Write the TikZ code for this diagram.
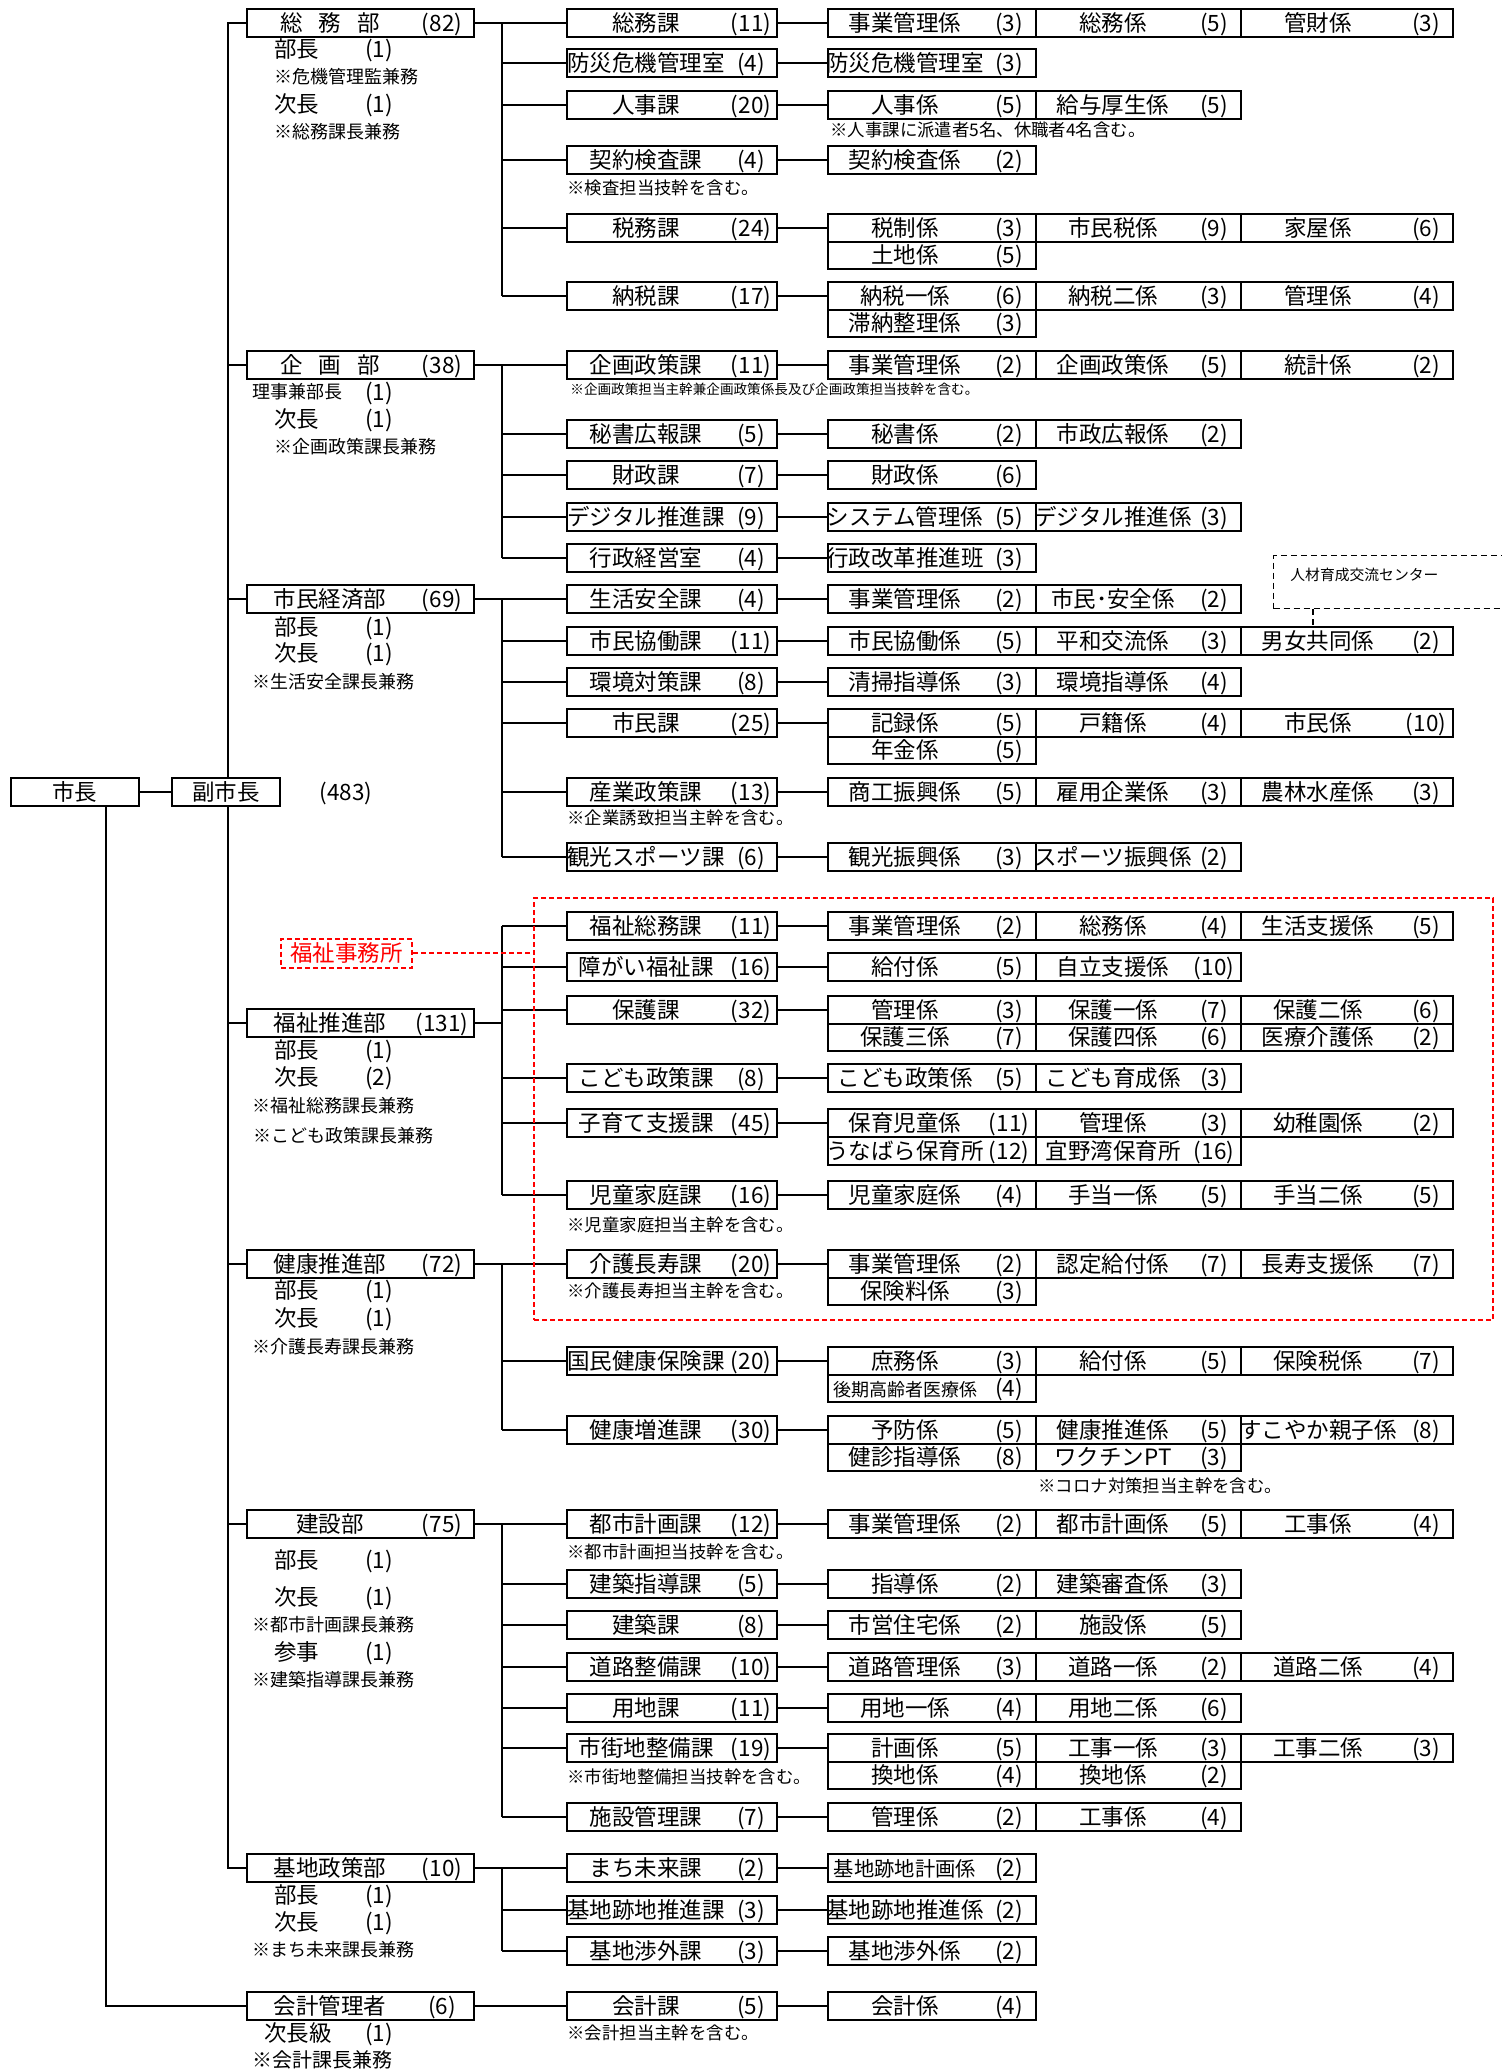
\documentclass[tikz,border=0pt]{standalone}
\usepackage{fontspec}
\setmainfont{Noto Sans CJK JP}
\pgfdeclarelayer{bg}
\pgfsetlayers{bg,main}
\tikzset{
  box/.style={draw, line width=1.1pt, fill=white, minimum height=13.75pt, inner sep=0pt, outer sep=0pt, anchor=west},
  txt/.style={inner sep=0pt, outer sep=0pt, font=\fontsize{11.25pt}{11.25pt}\selectfont, text height=9.3pt, text depth=1.3pt},
  ln/.style={line width=1pt},
  snote/.style={inner sep=0pt, anchor=west, font=\fontsize{8.7pt}{8.7pt}\selectfont},
  dnote/.style={inner sep=0pt, anchor=west, font=\fontsize{9pt}{9pt}\selectfont},
  reddash/.style={draw=red, line width=1pt, dash pattern=on 2.5pt off 1.5pt},
}
\newcommand\OrgDept[4]{%
  \node[box, minimum width=113.5pt] (#1) at (247,#2) {};
  \node[txt] (#1n) at ([xshift=41.5pt]#1.west) {#3};
  \node[txt] (#1c) at ([xshift=-16pt]#1.east) {#4};}
\newcommand\OrgSec[4]{%
  \node[box, minimum width=105pt] (#1) at (567,#2) {};
  \node[txt] (#1n) at ([xshift=39.5pt]#1.west) {#3};
  \node[txt] (#1c) at ([xshift=-13pt]#1.east) {#4};}
\newcommand\OrgSub[5]{%
  \ifcase#2\or\def\OrgSubX{828}\def\OrgSubW{104pt}\or\def\OrgSubX{1036}\def\OrgSubW{102.5pt}\else\def\OrgSubX{1241}\def\OrgSubW{106pt}\fi
  \node[box, minimum width=\OrgSubW] (#1) at (\OrgSubX,#3) {};
  \node[txt] (#1n) at ([xshift=38.5pt]#1.west) {#4};
  \node[txt] (#1c) at ([xshift=-13.5pt]#1.east) {#5};}
\newcommand\OrgRole[5]{%
  \node[txt, anchor=west] (#1) at (#2,#3) {#4};
  \node[txt] (#1c) at (379,#3) {#5};}
\newcommand\OrgBus[4]{%
  \draw[ln] (#1.east) -- (sbus |- #1.east);
  \draw[ln] (sbus |- #2.west) -- (sbus |- #3.west);
  \foreach \s in {#4} {\draw[ln] (sbus |- \s.west) -- (\s.west);}}
\begin{document}
\begin{tikzpicture}[x=0.5pt,y=-0.5pt]
\useasboundingbox (0,0) rectangle (1502,2069);
\coordinate (sbus) at (502,0);
\coordinate (vbus) at (228,0);
\coordinate (mbus) at (106,0);
\coordinate (hx) at (1313,0);

% top level
\node[box, minimum width=64.15pt, font=\fontsize{11.25pt}{11.25pt}\selectfont] (mayor) at (10.7,792) {市長};
\node[box, minimum width=54pt, font=\fontsize{11.25pt}{11.25pt}\selectfont] (vice) at (172,792) {副市長};
\node[txt] (total) at (346,792) {(483)};

% 総務部
\OrgDept{dA}{23}{総\hspace{0.72em}務\hspace{0.72em}部}{(82)}
\OrgRole{rA1}{274}{49}{部長}{(1)}
\node[dnote] (nA1) at (274,77) {※危機管理監兼務};
\OrgRole{rA2}{274}{104}{次長}{(1)}
\node[dnote] (nA2) at (274,132) {※総務課長兼務};
\OrgSec{sA1}{23}{総務課}{(11)}
\OrgSub{sA1a}{1}{23}{事業管理係}{(3)}
\OrgSub{sA1b}{2}{23}{総務係}{(5)}
\OrgSub{sA1c}{3}{23}{管財係}{(3)}
\OrgSec{sA2}{63}{防災危機管理室}{(4)}
\OrgSub{sA2a}{1}{63}{防災危機管理室}{(3)}
\OrgSec{sA3}{105}{人事課}{(20)}
\OrgSub{sA3a}{1}{105}{人事係}{(5)}
\OrgSub{sA3b}{2}{105}{給与厚生係}{(5)}
\node[snote] (nA3) at (830,130) {※人事課に派遣者5名、休職者4名含む。};
\OrgSec{sA4}{160}{契約検査課}{(4)}
\OrgSub{sA4a}{1}{160}{契約検査係}{(2)}
\node[snote] (nA4) at (567,188) {※検査担当技幹を含む。};
\OrgSec{sA5}{228}{税務課}{(24)}
\OrgSub{sA5a}{1}{228}{税制係}{(3)}
\OrgSub{sA5b}{2}{228}{市民税係}{(9)}
\OrgSub{sA5c}{3}{228}{家屋係}{(6)}
\OrgSub{sA5d}{1}{255.5}{土地係}{(5)}
\OrgSec{sA6}{296}{納税課}{(17)}
\OrgSub{sA6a}{1}{296}{納税一係}{(6)}
\OrgSub{sA6b}{2}{296}{納税二係}{(3)}
\OrgSub{sA6c}{3}{296}{管理係}{(4)}
\OrgSub{sA6d}{1}{323.5}{滞納整理係}{(3)}

% 企画部
\OrgDept{dB}{365}{企\hspace{0.72em}画\hspace{0.72em}部}{(38)}
\node[dnote] (rB1) at (252,392) {理事兼部長};
\node[txt] (rB1c) at (379,392) {(1)};
\OrgRole{rB2}{274}{419}{次長}{(1)}
\node[dnote] (nB1) at (274,447) {※企画政策課長兼務};
\OrgSec{sB1}{365}{企画政策課}{(11)}
\OrgSub{sB1a}{1}{365}{事業管理係}{(2)}
\OrgSub{sB1b}{2}{365}{企画政策係}{(5)}
\OrgSub{sB1c}{3}{365}{統計係}{(2)}
\node[snote, font=\fontsize{6.8pt}{6.8pt}\selectfont] (nB1s) at (570,389) {※企画政策担当主幹兼企画政策係長及び企画政策担当技幹を含む。};
\OrgSec{sB2}{434}{秘書広報課}{(5)}
\OrgSub{sB2a}{1}{434}{秘書係}{(2)}
\OrgSub{sB2b}{2}{434}{市政広報係}{(2)}
\OrgSec{sB3}{475}{財政課}{(7)}
\OrgSub{sB3a}{1}{475}{財政係}{(6)}
\OrgSec{sB4}{517}{デジタル推進課}{(9)}
\OrgSub{sB4a}{1}{517}{システム管理係}{(5)}
\OrgSub{sB4b}{2}{517}{デジタル推進係}{(3)}
\OrgSec{sB5}{558}{行政経営室}{(4)}
\OrgSub{sB5a}{1}{558}{行政改革推進班}{(3)}

% 市民経済部
\OrgDept{dC}{599}{市民経済部}{(69)}
\OrgRole{rC1}{274}{627}{部長}{(1)}
\OrgRole{rC2}{274}{653}{次長}{(1)}
\node[dnote] (nC1) at (252,682) {※生活安全課長兼務};
\OrgSec{sC1}{599}{生活安全課}{(4)}
\OrgSub{sC1a}{1}{599}{事業管理係}{(2)}
\OrgSub{sC1b}{2}{599}{市民･安全係}{(2)}
\OrgSec{sC2}{641}{市民協働課}{(11)}
\OrgSub{sC2a}{1}{641}{市民協働係}{(5)}
\OrgSub{sC2b}{2}{641}{平和交流係}{(3)}
\OrgSub{sC2c}{3}{641}{男女共同係}{(2)}
\OrgSec{sC3}{682}{環境対策課}{(8)}
\OrgSub{sC3a}{1}{682}{清掃指導係}{(3)}
\OrgSub{sC3b}{2}{682}{環境指導係}{(4)}
\OrgSec{sC4}{723}{市民課}{(25)}
\OrgSub{sC4a}{1}{723}{記録係}{(5)}
\OrgSub{sC4b}{2}{723}{戸籍係}{(4)}
\OrgSub{sC4c}{3}{723}{市民係}{(10)}
\OrgSub{sC4d}{1}{750.5}{年金係}{(5)}
\OrgSec{sC5}{792}{産業政策課}{(13)}
\OrgSub{sC5a}{1}{792}{商工振興係}{(5)}
\OrgSub{sC5b}{2}{792}{雇用企業係}{(3)}
\OrgSub{sC5c}{3}{792}{農林水産係}{(3)}
\node[snote] (nC5) at (567,818) {※企業誘致担当主幹を含む。};
\OrgSec{sC6}{857}{観光スポーツ課}{(6)}
\OrgSub{sC6a}{1}{857}{観光振興係}{(3)}
\OrgSub{sC6b}{2}{857}{スポーツ振興係}{(2)}

% 人材育成交流センター
\node[draw, line width=0.7pt, dash pattern=on 3pt off 2pt, minimum width=120pt, minimum height=26.5pt, inner sep=0pt, anchor=north west] (hrc) at (1273,555) {};
\node[inner sep=0pt, anchor=west, font=\fontsize{7.4pt}{7.4pt}\selectfont] (hrct) at (1290,575) {人材育成交流センター};

% 福祉推進部
\OrgDept{dD}{1023}{福祉推進部}{(131)}
\OrgRole{rD1}{274}{1050}{部長}{(1)}
\OrgRole{rD2}{274}{1077}{次長}{(2)}
\node[dnote] (nD1) at (252,1106) {※福祉総務課長兼務};
\node[dnote] (nD2) at (253,1136) {※こども政策課長兼務};
\OrgSec{sD1}{926}{福祉総務課}{(11)}
\OrgSub{sD1a}{1}{926}{事業管理係}{(2)}
\OrgSub{sD1b}{2}{926}{総務係}{(4)}
\OrgSub{sD1c}{3}{926}{生活支援係}{(5)}
\OrgSec{sD2}{967}{障がい福祉課}{(16)}
\OrgSub{sD2a}{1}{967}{給付係}{(5)}
\OrgSub{sD2b}{2}{967}{自立支援係}{(10)}
\OrgSec{sD3}{1010}{保護課}{(32)}
\OrgSub{sD3a}{1}{1010}{管理係}{(3)}
\OrgSub{sD3b}{2}{1010}{保護一係}{(7)}
\OrgSub{sD3c}{3}{1010}{保護二係}{(6)}
\OrgSub{sD3d}{1}{1037.5}{保護三係}{(7)}
\OrgSub{sD3e}{2}{1037.5}{保護四係}{(6)}
\OrgSub{sD3f}{3}{1037.5}{医療介護係}{(2)}
\OrgSec{sD4}{1078}{こども政策課}{(8)}
\OrgSub{sD4a}{1}{1078}{こども政策係}{(5)}
\OrgSub{sD4b}{2}{1078}{こども育成係}{(3)}
\OrgSec{sD5}{1123}{子育て支援課}{(45)}
\OrgSub{sD5a}{1}{1123}{保育児童係}{(11)}
\OrgSub{sD5b}{2}{1123}{管理係}{(3)}
\OrgSub{sD5c}{3}{1123}{幼稚園係}{(2)}
\OrgSub{sD5d}{1}{1151}{うなばら保育所}{(12)}
\OrgSub{sD5e}{2}{1151}{宜野湾保育所}{(16)}
\OrgSec{sD6}{1195}{児童家庭課}{(16)}
\OrgSub{sD6a}{1}{1195}{児童家庭係}{(4)}
\OrgSub{sD6b}{2}{1195}{手当一係}{(5)}
\OrgSub{sD6c}{3}{1195}{手当二係}{(5)}
\node[snote] (nD6) at (567,1225) {※児童家庭担当主幹を含む。};

% 健康推進部
\OrgDept{dE}{1264}{健康推進部}{(72)}
\OrgRole{rE1}{274}{1290}{部長}{(1)}
\OrgRole{rE2}{274}{1318}{次長}{(1)}
\node[dnote] (nE1) at (252,1347) {※介護長寿課長兼務};
\OrgSec{sE1}{1264}{介護長寿課}{(20)}
\OrgSub{sE1a}{1}{1264}{事業管理係}{(2)}
\OrgSub{sE1b}{2}{1264}{認定給付係}{(7)}
\OrgSub{sE1c}{3}{1264}{長寿支援係}{(7)}
\OrgSub{sE1d}{1}{1291.5}{保険料係}{(3)}
\node[snote] (nE1s) at (567,1291) {※介護長寿担当主幹を含む。};
\OrgSec{sE2}{1361}{国民健康保険課}{(20)}
\OrgSub{sE2a}{1}{1361}{庶務係}{(3)}
\OrgSub{sE2b}{2}{1361}{給付係}{(5)}
\OrgSub{sE2c}{3}{1361}{保険税係}{(7)}
\OrgSub{sE2d}{1}{1388.5}{\fontsize{9pt}{9pt}\selectfont 後期高齢者医療係}{(4)}
\OrgSec{sE3}{1430}{健康増進課}{(30)}
\OrgSub{sE3a}{1}{1430}{予防係}{(5)}
\OrgSub{sE3b}{2}{1430}{健康推進係}{(5)}
\OrgSub{sE3c}{3}{1430}{すこやか親子係}{(8)}
\OrgSub{sE3d}{1}{1457.5}{健診指導係}{(8)}
\OrgSub{sE3e}{2}{1457.5}{ワクチンPT}{(3)}
\node[snote] (nE3) at (1038,1486) {※コロナ対策担当主幹を含む。};

% 建設部
\OrgDept{dF}{1524}{建設部}{(75)}
\OrgRole{rF1}{274}{1560}{部長}{(1)}
\OrgRole{rF2}{274}{1597}{次長}{(1)}
\node[dnote] (nF1) at (252,1625) {※都市計画課長兼務};
\OrgRole{rF3}{274}{1652}{参事}{(1)}
\node[dnote] (nF2) at (252,1680) {※建築指導課長兼務};
\OrgSec{sF1}{1524}{都市計画課}{(12)}
\OrgSub{sF1a}{1}{1524}{事業管理係}{(2)}
\OrgSub{sF1b}{2}{1524}{都市計画係}{(5)}
\OrgSub{sF1c}{3}{1524}{工事係}{(4)}
\node[snote] (nF1s) at (567,1552) {※都市計画担当技幹を含む。};
\OrgSec{sF2}{1584}{建築指導課}{(5)}
\OrgSub{sF2a}{1}{1584}{指導係}{(2)}
\OrgSub{sF2b}{2}{1584}{建築審査係}{(3)}
\OrgSec{sF3}{1625}{建築課}{(8)}
\OrgSub{sF3a}{1}{1625}{市営住宅係}{(2)}
\OrgSub{sF3b}{2}{1625}{施設係}{(5)}
\OrgSec{sF4}{1667}{道路整備課}{(10)}
\OrgSub{sF4a}{1}{1667}{道路管理係}{(3)}
\OrgSub{sF4b}{2}{1667}{道路一係}{(2)}
\OrgSub{sF4c}{3}{1667}{道路二係}{(4)}
\OrgSec{sF5}{1708}{用地課}{(11)}
\OrgSub{sF5a}{1}{1708}{用地一係}{(4)}
\OrgSub{sF5b}{2}{1708}{用地二係}{(6)}
\OrgSec{sF6}{1748}{市街地整備課}{(19)}
\OrgSub{sF6a}{1}{1748}{計画係}{(5)}
\OrgSub{sF6b}{2}{1748}{工事一係}{(3)}
\OrgSub{sF6c}{3}{1748}{工事二係}{(3)}
\OrgSub{sF6d}{1}{1775.5}{換地係}{(4)}
\OrgSub{sF6e}{2}{1775.5}{換地係}{(2)}
\node[snote] (nF6) at (567,1777) {※市街地整備担当技幹を含む。};
\OrgSec{sF7}{1817}{施設管理課}{(7)}
\OrgSub{sF7a}{1}{1817}{管理係}{(2)}
\OrgSub{sF7b}{2}{1817}{工事係}{(4)}

% 基地政策部
\OrgDept{dG}{1868}{基地政策部}{(10)}
\OrgRole{rG1}{274}{1895}{部長}{(1)}
\OrgRole{rG2}{274}{1922}{次長}{(1)}
\node[dnote] (nG1) at (252,1950) {※まち未来課長兼務};
\OrgSec{sG1}{1868}{まち未来課}{(2)}
\OrgSub{sG1a}{1}{1868}{\fontsize{10.15pt}{10pt}\selectfont 基地跡地計画係}{(2)}
\OrgSec{sG2}{1910}{基地跡地推進課}{(3)}
\OrgSub{sG2a}{1}{1910}{基地跡地推進係}{(2)}
\OrgSec{sG3}{1951}{基地渉外課}{(3)}
\OrgSub{sG3a}{1}{1951}{基地渉外係}{(2)}

% 会計管理者
\OrgDept{dH}{2006}{会計管理者}{(6)}
\OrgRole{rH1}{264}{2033}{次長級}{(1)}
\node[dnote, font=\fontsize{10pt}{10pt}\selectfont] (nH1) at (252,2060) {※会計課長兼務};
\OrgSec{sH1}{2006}{会計課}{(5)}
\OrgSub{sH1a}{1}{2006}{会計係}{(4)}
\node[snote] (nH1s) at (567,2033) {※会計担当主幹を含む。};

% 福祉事務所 and red frame
\node[reddash, text=red, minimum width=65.5pt, minimum height=14.5pt, inner sep=0pt, anchor=west, font=\fontsize{11.25pt}{11.25pt}\selectfont] (fuku) at (280,953) {福祉事務所};
\node[reddash, minimum width=479.5pt, minimum height=211pt, inner sep=0pt, anchor=north west] (redbox) at (533,897) {};

\begin{pgfonlayer}{bg}
\draw[ln] (mayor.east) -- (vice.west);
\draw[ln] (mbus |- mayor.south) -- (mbus |- dH.west) -- (dH.west);
\draw[ln] (dA.west) -- (vbus |- dA.west) -- (vbus |- dG.west) -- (dG.west);
\foreach \d in {dB,dC,dD,dE,dF} {\draw[ln] (vbus |- \d.west) -- (\d.west);}
\OrgBus{dA}{sA1}{sA6}{sA1,sA2,sA3,sA4,sA5,sA6}
\OrgBus{dB}{sB1}{sB5}{sB1,sB2,sB3,sB4,sB5}
\OrgBus{dC}{sC1}{sC6}{sC1,sC2,sC3,sC4,sC5,sC6}
\OrgBus{dD}{sD1}{sD6}{sD1,sD2,sD3,sD4,sD5,sD6}
\OrgBus{dE}{sE1}{sE3}{sE1,sE2,sE3}
\OrgBus{dF}{sF1}{sF7}{sF1,sF2,sF3,sF4,sF5,sF6,sF7}
\OrgBus{dG}{sG1}{sG3}{sG1,sG2,sG3}
\draw[ln] (dH.east) -- (sH1.west);
\foreach \a in {sA1,sA2,sA3,sA4,sA5,sA6,sB1,sB2,sB3,sB4,sB5,sC1,sC2,sC3,sC4,sC5,sC6,sD1,sD2,sD3,sD4,sD5,sD6,sE1,sE2,sE3,sF1,sF2,sF3,sF4,sF5,sF6,sF7,sG1,sG2,sG3,sH1}
  {\draw[ln] (\a.east) -- (\a a.west);}
\draw[line width=0.7pt, dash pattern=on 3pt off 2pt] (hx |- hrc.south) -- (hx |- sC2c.north);
\end{pgfonlayer}
\draw[reddash] (fuku.east) -- (redbox.west |- fuku.east);
\end{tikzpicture}
\end{document}
